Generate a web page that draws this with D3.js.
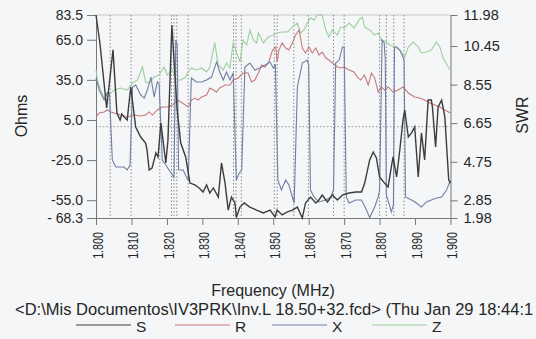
<!DOCTYPE html>
<html><head><meta charset="utf-8">
<script src="https://cdn.jsdelivr.net/npm/d3@7"></script>
<style>
html,body{margin:0;padding:0;background:#f4f6f8;}
svg{display:block;font-family:"Liberation Sans",Arial,sans-serif;}
</style></head>
<body>
<svg id="c" width="536" height="339"></svg>
<script>
// ---- data ----
const sFreq=[1.8000,1.8011,1.8030,1.8048,1.8059,1.8068,1.8073,1.8079,1.8088,1.8098,1.8112,1.8126,1.8140,1.8144,1.8150,1.8158,1.8169,1.8175,1.8183,1.8189,1.8197,1.8203,1.8214,1.8220,1.8229,1.8239,1.8253,1.8265,1.8279,1.8291,1.8302,1.8312,1.8321,1.8331,1.8345,1.8354,1.8364,1.8373,1.8382,1.8392,1.8396,1.8406,1.8418,1.8434,1.8453,1.8472,1.8491,1.8505,1.8511,1.8525,1.8540,1.8554,1.8568,1.8582,1.8591,1.8605,1.8620,1.8629,1.8638,1.8653,1.8667,1.8681,1.8695,1.8714,1.8733,1.8749,1.8758,1.8772,1.8782,1.8791,1.8800,1.8814,1.8824,1.8833,1.8838,1.8848,1.8857,1.8866,1.8871,1.8881,1.8890,1.8899,1.8909,1.8918,1.8927,1.8937,1.8946,1.8949,1.8958,1.8965,1.8975,1.8984,1.8995,1.9000];
const sVals=[11.98,10.60,7.40,10.26,7.15,6.81,7.10,6.96,6.81,8.43,6.46,5.97,5.67,5.33,4.34,4.44,5.18,4.98,6.66,5.82,4.69,5.82,11.49,9.76,7.30,5.67,4.99,3.70,3.61,3.46,3.26,3.61,3.21,3.46,3.01,4.69,3.70,2.37,3.01,2.72,2.00,2.52,2.72,2.52,2.37,2.23,2.37,2.03,2.37,2.13,2.28,2.37,2.52,1.98,2.72,3.01,2.72,2.87,3.11,2.77,3.11,2.87,3.11,3.21,3.26,3.26,3.70,4.84,5.23,4.94,4.00,3.70,3.51,4.49,4.99,4.00,5.33,6.81,7.30,5.97,6.17,6.46,4.00,6.17,4.84,7.79,7.79,7.45,5.48,7.45,7.79,6.96,3.85,3.70];

const rFreq=[1.8000,1.8009,1.8023,1.8032,1.8042,1.8051,1.8070,1.8088,1.8107,1.8126,1.8140,1.8150,1.8159,1.8173,1.8187,1.8201,1.8216,1.8230,1.8244,1.8260,1.8269,1.8279,1.8288,1.8298,1.8312,1.8321,1.8331,1.8340,1.8349,1.8364,1.8378,1.8387,1.8401,1.8415,1.8429,1.8439,1.8448,1.8458,1.8467,1.8477,1.8486,1.8492,1.8498,1.8507,1.8511,1.8516,1.8525,1.8535,1.8544,1.8554,1.8563,1.8573,1.8582,1.8591,1.8601,1.8610,1.8620,1.8629,1.8638,1.8648,1.8657,1.8667,1.8681,1.8690,1.8700,1.8714,1.8728,1.8737,1.8747,1.8757,1.8768,1.8777,1.8786,1.8796,1.8805,1.8814,1.8824,1.8838,1.8852,1.8866,1.8881,1.8899,1.8913,1.8927,1.8942,1.8956,1.8970,1.8984,1.9000];
const rVals=[7.2,10.2,11.0,12.5,11.0,10.2,8.7,7.2,8.7,8.0,8.7,11.0,8.7,12.5,14.7,14.7,16.2,19.9,17.7,14.7,19.9,21.4,19.9,22.2,23.7,28.9,27.4,25.9,28.9,31.2,31.2,34.9,36.4,40.1,40.1,33.4,34.9,40.1,46.1,44.6,47.6,52.1,57.3,59.6,48.4,57.3,62.6,58.8,57.3,62.6,68.5,72.3,58.8,55.1,59.6,55.1,58.8,53.6,55.8,51.3,49.8,47.6,44.6,43.9,44.6,42.4,40.9,37.1,34.9,38.6,31.2,40.1,36.4,25.9,29.7,27.4,29.7,25.9,27.4,29.7,25.2,22.2,21.4,19.9,17.7,16.2,14.7,12.5,10.2];

const xFreq=[1.8000,1.8009,1.8023,1.8032,1.8038,1.8046,1.8056,1.8068,1.8079,1.8088,1.8096,1.8103,1.8112,1.8126,1.8136,1.8145,1.8155,1.8164,1.8173,1.8178,1.8187,1.8197,1.8206,1.8216,1.8220,1.8225,1.8229,1.8233,1.8246,1.8255,1.8260,1.8269,1.8283,1.8298,1.8312,1.8326,1.8340,1.8349,1.8359,1.8368,1.8378,1.8387,1.8396,1.8404,1.8411,1.8420,1.8434,1.8448,1.8462,1.8477,1.8491,1.8500,1.8506,1.8513,1.8523,1.8535,1.8544,1.8554,1.8559,1.8568,1.8582,1.8596,1.8600,1.8605,1.8615,1.8629,1.8648,1.8662,1.8670,1.8676,1.8686,1.8695,1.8700,1.8706,1.8714,1.8733,1.8749,1.8763,1.8772,1.8786,1.8796,1.8800,1.8807,1.8813,1.8816,1.8819,1.8828,1.8833,1.8839,1.8842,1.8848,1.8857,1.8866,1.8869,1.8873,1.8890,1.8904,1.8918,1.8932,1.8946,1.8961,1.8975,1.8989,1.9000];
const xVals=[36.4,27.4,19.9,25.2,25.2,-24.9,-30.2,-30.2,-30.2,-32.4,-28.7,29.7,31.2,23.7,21.4,27.4,37.1,22.2,33.4,31.9,-24.9,-28.7,-32.4,-36.1,-38.4,64.8,61.1,-32.4,-32.4,-37.6,-39.9,36.4,33.4,33.4,34.9,37.1,48.4,40.9,34.9,40.9,34.9,40.1,-39.9,-34.6,-32.4,44.6,47.6,42.4,43.9,46.1,48.4,43.9,46.1,-39.9,-47.4,-39.9,-43.6,-52.6,-57.1,29.7,47.6,49.8,46.1,-47.4,-52.6,-56.3,-54.8,-52.6,-47.4,47.6,49.8,59.6,59.6,-52.6,-57.1,-54.8,-54.8,-62.3,-68.0,-60.1,-52.6,-47.4,64.8,62.6,49.8,-51.1,-58.6,-63.8,-58.6,59.6,59.6,57.3,52.1,49.8,-52.6,-54.8,-57.1,-60.1,-56.3,-54.8,-53.3,-52.6,-47.4,-39.9];

const zFreq=[1.8000,1.8004,1.8013,1.8023,1.8032,1.8042,1.8051,1.8070,1.8088,1.8103,1.8117,1.8131,1.8140,1.8150,1.8164,1.8178,1.8192,1.8201,1.8216,1.8225,1.8239,1.8253,1.8260,1.8269,1.8283,1.8298,1.8312,1.8321,1.8335,1.8345,1.8359,1.8368,1.8378,1.8387,1.8396,1.8406,1.8415,1.8425,1.8434,1.8444,1.8453,1.8458,1.8472,1.8486,1.8500,1.8511,1.8525,1.8540,1.8554,1.8568,1.8577,1.8587,1.8596,1.8605,1.8615,1.8624,1.8638,1.8648,1.8657,1.8667,1.8681,1.8690,1.8700,1.8714,1.8728,1.8742,1.8751,1.8758,1.8772,1.8786,1.8796,1.8805,1.8819,1.8829,1.8843,1.8857,1.8871,1.8881,1.8895,1.8909,1.8918,1.8932,1.8946,1.8960,1.8970,1.8979,1.8994,1.9000];
const zVals=[42.4,34.9,27.4,21.4,25.9,25.2,27.4,28.9,27.4,32.7,34.9,44.6,33.4,32.7,37.1,38.6,44.6,38.6,42.4,34.9,34.9,37.1,40.9,43.9,42.4,43.9,40.9,44.6,62.6,46.1,42.4,47.6,43.9,63.3,55.8,48.4,64.8,61.1,72.3,64.8,62.6,70.0,62.6,67.0,68.5,70.0,70.8,70.8,74.5,77.5,70.0,72.3,77.5,81.3,79.8,83.5,83.5,72.3,67.0,72.3,68.5,74.5,73.8,77.5,73.8,79.8,82.0,74.5,72.3,68.5,70.0,64.8,63.3,61.1,59.6,57.3,52.1,59.6,63.3,59.6,55.1,55.8,57.3,63.3,59.6,51.3,44.6,42.4];

const markerFreqs=[1.8040,1.8099,1.8180,1.8213,1.8220,1.8228,1.8260,1.8388,1.8395,1.8410,1.8503,1.8511,1.8558,1.8599,1.8670,1.8700,1.8800,1.8819,1.8840,1.8869];

const xTicks=[1.800,1.810,1.820,1.830,1.840,1.850,1.860,1.870,1.880,1.890,1.900];
const ohmTicks=[83.5,65.0,35.0,5.0,-25.0,-55.0,-68.3];
const ohmLabels=["83.5","65.0","35.0","5.0","-25.0","-55.0","- 68.3"];
const swrTicks=[11.98,10.45,8.55,6.65,4.75,2.85,1.98];
const swrLabels=["11.98","10.45","8.55","6.65","4.75","2.85","1.98"];
const seriesNames=["S","R","X","Z"];
const seriesColors=["#3c3c3c","#c87a7a","#6f7fa3","#9dcf9d"];
const fileLine="<D:\\Mis Documentos\\IV3PRK\\Inv.L 18.50+32.fcd> (Thu Jan 29 18:44:1";

// ---- chart ----
const svg=d3.select("#c");
const L=96,R=450.5,T=15,B=218;
const x=d3.scaleLinear().domain([1.8,1.9]).range([L,R]);
const yO=d3.scaleLinear().domain([-68.3,83.5]).range([B,T]);
const yS=d3.scaleLinear().domain([1.98,11.98]).range([B,T]);
const txt="#262626", axc="#777";

svg.append("rect").attr("width",536).attr("height",339).attr("fill","#f4f6f8");

svg.append("line").attr("x1",L).attr("x2",R).attr("y1",T).attr("y2",T).attr("stroke","#c8c8c8");
svg.append("line").attr("x1",L).attr("x2",R).attr("y1",yO(0)).attr("y2",yO(0))
  .attr("stroke","#9a9a9a").attr("stroke-dasharray","1.5,2");
svg.append("g").selectAll("line").data(markerFreqs).join("line")
  .attr("x1",d=>x(d)).attr("x2",d=>x(d)).attr("y1",T).attr("y2",B)
  .attr("stroke","#8a8a8a").attr("stroke-dasharray","1.5,2");

const gx=svg.append("g").attr("transform",`translate(0,${B})`)
  .call(d3.axisBottom(x).tickValues(xTicks).tickFormat(d3.format(".3f")).tickSize(7).tickSizeOuter(0));
gx.selectAll("text").attr("transform","translate(1,14) rotate(-90) scale(0.74,1)").attr("text-anchor","end")
  .attr("x",0).attr("y",0).attr("dy","0.36em").attr("font-size",14.5).attr("fill",txt);
const gl=svg.append("g").attr("transform",`translate(${L},0)`)
  .call(d3.axisLeft(yO).tickValues(ohmTicks).tickFormat((d,i)=>ohmLabels[i]).tickSize(9).tickPadding(4).tickSizeOuter(0));
gl.selectAll("text").attr("font-size",14).attr("fill",txt);
const gr=svg.append("g").attr("transform",`translate(${R},0)`)
  .call(d3.axisRight(yS).tickValues(swrTicks).tickFormat((d,i)=>swrLabels[i]).tickSize(7).tickPadding(6).tickSizeOuter(0));
gr.selectAll("text").attr("font-size",14.5).attr("fill",txt);
svg.selectAll(".domain").attr("stroke",axc);
svg.selectAll(".tick line").attr("stroke",axc);
svg.selectAll("g").attr("font-family",null);

const lineO=d3.line().x(d=>x(d[0])).y(d=>yO(d[1]));
const lineS=d3.line().x(d=>x(d[0])).y(d=>yS(d[1]));
const zip=(a,b)=>a.map((f,i)=>[f,b[i]]);
const plot=svg.append("g");
plot.append("path").datum(zip(zFreq,zVals)).attr("d",lineO).attr("fill","none").attr("stroke",seriesColors[3]).attr("stroke-width",1.1);
plot.append("path").datum(zip(rFreq,rVals)).attr("d",lineO).attr("fill","none").attr("stroke",seriesColors[1]).attr("stroke-width",1.1);
plot.append("path").datum(zip(xFreq,xVals)).attr("d",lineO).attr("fill","none").attr("stroke",seriesColors[2]).attr("stroke-width",1.1);
plot.append("path").datum(zip(sFreq,sVals)).attr("d",lineS).attr("fill","none").attr("stroke",seriesColors[0]).attr("stroke-width",1.4);

svg.append("text").attr("transform","translate(27,116) rotate(-90)").attr("text-anchor","middle")
  .attr("font-size",16).attr("fill",txt).text("Ohms");
svg.append("text").attr("transform","translate(528,115) rotate(-90)").attr("text-anchor","middle")
  .attr("font-size",16).attr("fill",txt).text("SWR");
svg.append("text").attr("x",273).attr("y",296).attr("text-anchor","middle")
  .attr("font-size",16).attr("fill",txt).text("Frequency (MHz)");
const fl=svg.append("text").attr("x",15).attr("y",315)
  .attr("font-size",16).attr("fill",txt).text(fileLine);
const w=fl.node().getComputedTextLength();
fl.attr("font-size",16*519/w);

const legX=[76,175,272,372];
const lg=svg.append("g").selectAll("g").data(seriesNames).join("g")
  .attr("transform",(d,i)=>`translate(${legX[i]},325)`);
lg.append("line").attr("x1",0).attr("x2",55).attr("y1",0).attr("y2",0)
  .attr("stroke",(d,i)=>seriesColors[i]).attr("stroke-width",1.2);
lg.append("text").attr("x",60).attr("y",7).attr("font-size",15.5).attr("fill",txt).text(d=>d);
</script>
</body></html>
